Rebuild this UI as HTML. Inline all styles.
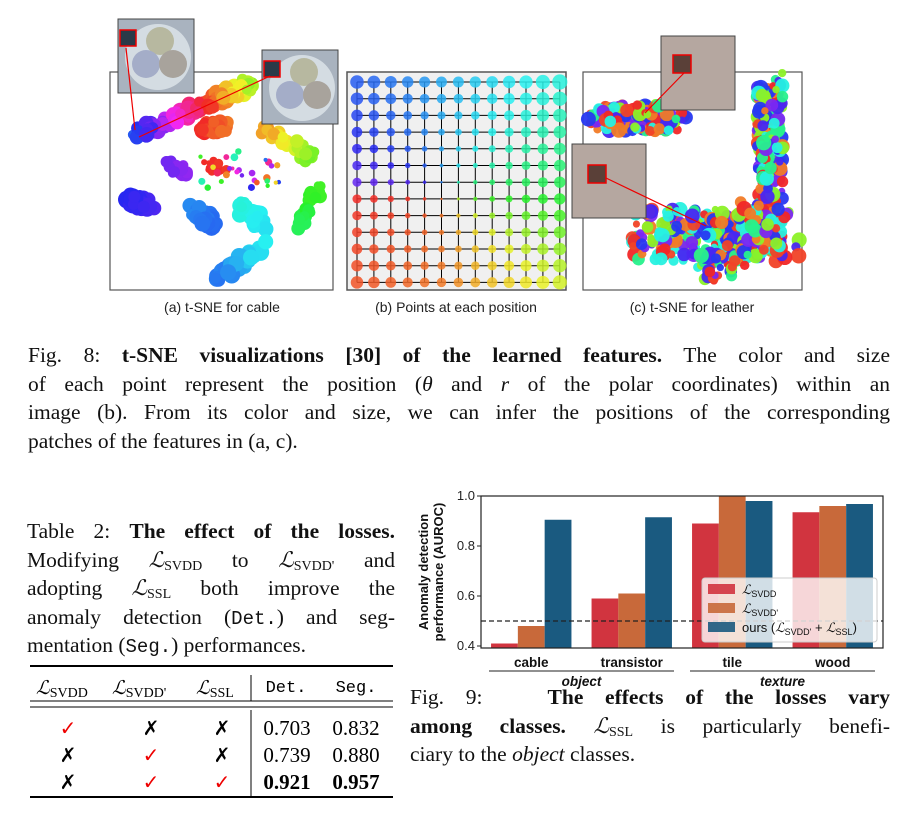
<!DOCTYPE html>
<html><head><meta charset="utf-8">
<style>
html,body{margin:0;padding:0;background:#fff;}
body{width:921px;height:823px;position:relative;overflow:hidden;font-family:"Liberation Serif",serif;}
.cap{position:absolute;font-family:"Liberation Serif",serif;font-size:21.5px;color:#111;}
.cap div{height:28.6px;line-height:28.6px;text-align:justify;text-align-last:justify;white-space:normal;}
.cap div.last{text-align-last:left;}
.mono{font-family:"Liberation Mono",monospace;font-size:19px;}
i.L{font-family:"Liberation Serif",serif;font-style:italic;}
sub{font-size:14px;vertical-align:-3px;line-height:0;}
</style></head>
<body>
<svg id="top" width="921" height="330" style="position:absolute;left:0;top:0">
  <g id="pa"></g>
  <g id="pb"></g>
  <g id="pc"></g>
  <g font-family="Liberation Sans, sans-serif" font-size="14" fill="#222" text-anchor="middle">
    <text x="222" y="312">(a) t-SNE for cable</text>
    <text x="456" y="312">(b) Points at each position</text>
    <text x="692" y="312">(c) t-SNE for leather</text>
  </g>
</svg>

<div class="cap" style="left:28px;top:341px;width:862px;">
<div>Fig. 8: <b>t-SNE visualizations [30] of the learned features.</b> The color and size</div>
<div>of each point represent the position (<i>θ</i> and <i>r</i> of the polar coordinates) within an</div>
<div>image (b). From its color and size, we can infer the positions of the corresponding</div>
<div class="last">patches of the features in (a, c).</div>
</div>

<div class="cap" style="left:27px;top:517px;width:368px;">
<div>Table 2: <b>The effect of the losses.</b></div>
<div>Modifying <i class="L">ℒ</i><sub>SVDD</sub> to <i class="L">ℒ</i><sub>SVDD'</sub> and</div>
<div>adopting <i class="L">ℒ</i><sub>SSL</sub> both improve the</div>
<div>anomaly detection (<span class="mono">Det.</span>) and seg-</div>
<div class="last">mentation (<span class="mono">Seg.</span>) performances.</div>
</div>

<svg width="400" height="160" style="position:absolute;left:0;top:655px" font-family="Liberation Serif, serif" font-size="19">
  <line x1="30" y1="11" x2="393" y2="11" stroke="#000" stroke-width="2"/>
  <line x1="30" y1="46" x2="393" y2="46" stroke="#000" stroke-width="1"/>
  <line x1="30" y1="52" x2="393" y2="52" stroke="#000" stroke-width="1"/>
  <line x1="30" y1="142" x2="393" y2="142" stroke="#000" stroke-width="2"/>
  <line x1="251" y1="20" x2="251" y2="46" stroke="#000"/>
  <line x1="251" y1="55" x2="251" y2="142" stroke="#000"/>
  <g>
    <text x="36" y="39" font-style="italic">ℒ<tspan font-style="normal" font-size="14" dy="3">SVDD</tspan></text>
    <text x="112" y="39" font-style="italic">ℒ<tspan font-style="normal" font-size="14" dy="3">SVDD'</tspan></text>
    <text x="196" y="39" font-style="italic">ℒ<tspan font-style="normal" font-size="14" dy="3">SSL</tspan></text>
    <text x="286" y="37" font-family="Liberation Mono, monospace" font-size="17" text-anchor="middle">Det.</text>
    <text x="356" y="37" font-family="Liberation Mono, monospace" font-size="17" text-anchor="middle">Seg.</text>
  </g>
  <g text-anchor="middle" font-family="DejaVu Sans, sans-serif" font-size="20" font-weight="bold">
    <text x="68" y="80" fill="#e00">✓</text><text x="151" y="80">✗</text><text x="222" y="80">✗</text>
    <text x="68" y="107">✗</text><text x="151" y="107" fill="#e00">✓</text><text x="222" y="107">✗</text>
    <text x="68" y="134">✗</text><text x="151" y="134" fill="#e00">✓</text><text x="222" y="134" fill="#e00">✓</text>
  </g>
  <g text-anchor="middle" font-size="21">
    <text x="287" y="80">0.703</text><text x="356" y="80">0.832</text>
    <text x="287" y="107">0.739</text><text x="356" y="107">0.880</text>
    <text x="287" y="134" font-weight="bold">0.921</text><text x="356" y="134" font-weight="bold">0.957</text>
  </g>
</svg>

<svg id="bar" width="921" height="823" style="position:absolute;left:0;top:0" font-family="Liberation Sans, sans-serif"></svg>

<div class="cap" style="left:410px;top:683px;width:480px;">
<div>Fig. 9:&nbsp;&nbsp; <b>The effects of the losses vary</b></div>
<div><b>among classes.</b> <i class="L">ℒ</i><sub>SSL</sub> is particularly benefi-</div>
<div class="last">ciary to the <i>object</i> classes.</div>
</div>

<script>
// ---- Bar chart data ----
const categories = ["cable","transistor","tile","wood"];
const groups = ["object","object","texture","texture"];
const seriesNames = ["L_SVDD","L_SVDD'","ours"];
const svddValues = [0.41, 0.59, 0.89, 0.935];
const svddPrimeValues = [0.48, 0.61, 1.0, 0.96];
const oursValues = [0.905, 0.915, 0.98, 0.968];
const yTicks = [0.4, 0.6, 0.8, 1.0];
const baseline = 0.5;

const NS = "http://www.w3.org/2000/svg";
function mk(parent, tag, attrs){const e=document.createElementNS(NS,tag);for(const k in attrs)e.setAttribute(k,attrs[k]);parent.appendChild(e);return e;}

(function(){
  const svg=document.getElementById('bar');
  const L=481,R=883,T=496,B=646,yMin=0.4,yMax=1.0;
  const y=v=>B-(v-yMin)/(yMax-yMin)*(B-T);
  const band=(R-L)/categories.length;
  const x=i=>L+i*band;
  const bw=band*0.8/3;
  const colors=["#d1343f","#c8693a","#1a5a80"];
  const all=[svddValues,svddPrimeValues,oursValues];
  all.forEach((vals,s)=>{
    vals.forEach((v,i)=>{
      const r=mk(svg,'rect',{x:x(i)+band*0.1+s*bw,y:y(v),width:bw,height:Math.max(0,B+2-y(v)),fill:colors[s]});
      
      
    });
  });
  const dl=mk(svg,'line',{x1:L,x2:R,y1:y(baseline),y2:y(baseline),stroke:'#222','stroke-width':1.3,'stroke-dasharray':'5,3'});
  
  
  const lg=mk(svg,'g',{});
  
  
  mk(lg,'rect',{x:702,y:578,width:175,height:64,rx:3,fill:'rgba(255,255,255,0.8)',stroke:'#ccc'});
  for(let s=0;s<3;s++){
    const ly=584+s*19;
    mk(lg,'rect',{x:708,y:ly,width:27,height:10,fill:colors[s],opacity:0.9});
    const t=mk(lg,'text',{x:742,y:ly+10,'font-size':13,fill:'#111'});
    if(s===0){t.innerHTML='<tspan font-family="Liberation Serif" font-style="italic">ℒ</tspan><tspan font-size="9" dy="3">SVDD</tspan>';}
    else if(s===1){t.innerHTML='<tspan font-family="Liberation Serif" font-style="italic">ℒ</tspan><tspan font-size="9" dy="3">SVDD\'</tspan>';}
    else {t.innerHTML='ours (<tspan font-family="Liberation Serif" font-style="italic">ℒ</tspan><tspan font-size="9" dy="3">SVDD\'</tspan><tspan dy="-3"> + </tspan><tspan font-family="Liberation Serif" font-style="italic">ℒ</tspan><tspan font-size="9" dy="3">SSL</tspan><tspan dy="-3">)</tspan>';}
  }
  mk(svg,'rect',{x:L,y:T,width:R-L,height:B+2-T,fill:'none',stroke:'#222','stroke-width':1.2});
  yTicks.forEach(v=>{
    mk(svg,'line',{x1:L-4,x2:L,y1:y(v),y2:y(v),stroke:'#222'});
    const t=mk(svg,'text',{x:L-6,y:y(v)+4,'text-anchor':'end','font-size':13,fill:'#222'});
    t.textContent=v.toFixed(1);
    
    
  });
  categories.forEach((c,i)=>{
    const t=mk(svg,'text',{x:x(i)+band/2,y:667,'text-anchor':'middle','font-size':13.5,'font-weight':'bold',fill:'#111'});
    t.textContent=c;
    
    
  });
  const gnames=[...new Set(groups)];
  gnames.forEach(g=>{
    const idx=groups.map((v,i)=>v===g?i:-1).filter(i=>i>=0);
    const x1=x(idx[0])+8,x2=x(idx[idx.length-1])+band-8;
    mk(svg,'line',{x1:x1,x2:x2,y1:671,y2:671,stroke:'#222'});
    const t=mk(svg,'text',{x:(x1+x2)/2,y:686,'text-anchor':'middle','font-size':13.5,'font-weight':'bold','font-style':'italic',fill:'#111'});
    t.textContent=g;
    
    
  });
  const yl=mk(svg,'text',{transform:'translate(428,572) rotate(-90)','text-anchor':'middle','font-size':13,'font-weight':'bold',fill:'#111'});
  yl.innerHTML='<tspan x="0" dy="0">Anomaly detection</tspan><tspan x="0" dy="15">performance (AUROC)</tspan>';
  
  
})();

// ---- Figure 8 decorative panels ----
function hue(h){h=((h%360)+360)%360;return 'hsl('+h+',88%,55%)';}
function phiHue(phi){
  const P=[0,90,135,180,225,270,315,360],H=[0,25,60,130,175,200,228,262];
  for(let i=0;i<P.length-1;i++){if(phi<=P[i+1]){const t=(phi-P[i])/(P[i+1]-P[i]);return H[i]+(H[i+1]-H[i])*t;}}
  return 262;
}
(function(){
  const pb=document.getElementById('pb');
  mk(pb,'rect',{x:347,y:72,width:219,height:218,fill:'#f0f0f0',stroke:'#555','stroke-width':1.5});
  const n=13,x0=357,y0=82,sx=16.9,sy=16.7;
  for(let i=0;i<n;i++){
    mk(pb,'line',{x1:x0,x2:x0+12*sx,y1:y0+i*sy,y2:y0+i*sy,stroke:'#000','stroke-width':1});
    mk(pb,'line',{x1:x0+i*sx,x2:x0+i*sx,y1:y0,y2:y0+12*sy,stroke:'#000','stroke-width':1});
  }
  for(let r=0;r<n;r++)for(let c=0;c<n;c++){
    const dx=c-5.2,dy=r-6.5;
    let a=Math.atan2(dy,-dx);
    let phi=(a*180/Math.PI+360)%360;
    const d=Math.sqrt(dx*dx+dy*dy);
    mk(pb,'circle',{cx:x0+c*sx,cy:y0+r*sy,r:0.8+d*0.72,fill:hue(phiHue(phi)),opacity:0.85});
  }
  const pa=document.getElementById('pa');
  mk(pa,'rect',{x:110,y:72,width:223,height:218,fill:'#fff',stroke:'#555','stroke-width':1.2});
  let seed=7;const rnd=()=>{seed=(seed*16807)%2147483647;return seed/2147483647;};
  const segsA=[[137,136,253,82,225,450,140,8],[200,128,228,125,0,25,30,8],[262,128,315,158,30,100,40,7],[170,167,185,172,262,272,20,7],[206,165,225,168,0,5,14,5],[130,200,150,205,240,252,30,9],[190,210,215,225,210,222,45,8],[240,205,262,225,172,185,40,8],[318,185,300,228,110,135,30,7],[216,277,262,247,220,180,40,9]];
  segsA.forEach(s=>{for(let k=0;k<s[6];k++){const t=rnd();const px=s[0]+(s[2]-s[0])*t+(rnd()-0.5)*12,py=s[1]+(s[3]-s[1])*t+(rnd()-0.5)*12;mk(pa,'circle',{cx:px,cy:py,r:s[7]*(0.6+rnd()*0.4),fill:hue(s[4]+(s[5]-s[4])*t)});}});
  for(let k=0;k<30;k++){mk(pa,'circle',{cx:200+rnd()*80,cy:150+rnd()*40,r:2+rnd()*2,fill:hue(rnd()*360)});}
  [[118,19],[262,50]].forEach(p=>{
    const g=mk(pa,'g',{});
    mk(g,'rect',{x:p[0],y:p[1],width:76,height:74,fill:'#a9b3bf',stroke:'#444'});
    mk(g,'circle',{cx:p[0]+40,cy:p[1]+38,r:33,fill:'#d4dce2'});
    mk(g,'circle',{cx:p[0]+42,cy:p[1]+22,r:14,fill:'#b7b8a0'});
    mk(g,'circle',{cx:p[0]+28,cy:p[1]+45,r:14,fill:'#a4adc8'});
    mk(g,'circle',{cx:p[0]+55,cy:p[1]+45,r:14,fill:'#a8a39c'});
    mk(g,'rect',{x:p[0]+2,y:p[1]+11,width:16,height:16,fill:'#2a3a48',stroke:'#e00','stroke-width':1.5});
  });
  mk(pa,'line',{x1:126,y1:48,x2:135,y2:130,stroke:'#e00','stroke-width':1.2});
  mk(pa,'line',{x1:270,y1:76,x2:139,y2:137,stroke:'#e00','stroke-width':1.2});
  const pc=document.getElementById('pc');
  mk(pc,'rect',{x:583,y:72,width:219,height:218,fill:'#fff',stroke:'#555','stroke-width':1.2});
  const pal=[0,8,25,90,150,175,235,250,265];
  const segsC=[[600,118,675,118,150,14,7],[770,85,770,200,170,13,7],[640,235,775,235,260,26,7],[765,245,700,270,80,14,7],[745,205,770,240,60,14,7]];
  segsC.forEach(s=>{for(let k=0;k<s[4];k++){const t=rnd();const px=s[0]+(s[2]-s[0])*t+(rnd()-0.5)*s[5]*2,py=s[1]+(s[3]-s[1])*t+(rnd()-0.5)*s[5]*2;mk(pc,'circle',{cx:px,cy:py,r:s[6]*(0.5+rnd()*0.6),fill:hue(pal[Math.floor(rnd()*pal.length)]),opacity:0.95});}});
  [[661,36],[572,144]].forEach(p=>{
    mk(pc,'rect',{x:p[0],y:p[1],width:74,height:74,fill:'#b5a7a0',stroke:'#444'});
  });
  mk(pc,'rect',{x:673,y:55,width:18,height:18,fill:'#5a4038',stroke:'#e00','stroke-width':1.5});
  mk(pc,'rect',{x:588,y:165,width:18,height:18,fill:'#5a4038',stroke:'#e00','stroke-width':1.5});
  mk(pc,'line',{x1:684,y1:73,x2:645,y2:113,stroke:'#e00','stroke-width':1.2});
  mk(pc,'line',{x1:606,y1:178,x2:706,y2:226,stroke:'#e00','stroke-width':1.2});
})();
</script>
</body></html>
